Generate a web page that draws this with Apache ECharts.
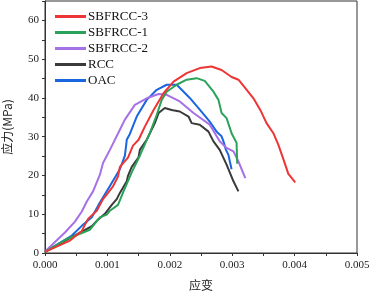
<!DOCTYPE html>
<html>
<head>
<meta charset="utf-8">
<script src="https://cdn.jsdelivr.net/npm/echarts@6/dist/echarts.min.js"></script>
<style>
  html, body { margin: 0; padding: 0; background: #fff; }
  #chart { width: 370px; height: 292px; }
</style>
</head>
<body>
<div id="chart"></div>
<script>
// 应力-应变曲线 [strain, stress(MPa)]
const sbfrcc3 = [
  [0, 0.3], [0.0004, 3.2], [0.00059, 5.7], [0.00069, 8.8], [0.00083, 10.9],
  [0.00093, 13.9], [0.00101, 15.5], [0.00109, 17.2], [0.00117, 19.7], [0.0012, 22.2],
  [0.00133, 24.6], [0.00141, 27.7], [0.0015, 29.2], [0.0016, 32.6], [0.00174, 36.9],
  [0.0019, 41.2], [0.00206, 44.2], [0.00227, 46.4], [0.00248, 47.7], [0.00267, 48.1],
  [0.00283, 47.2], [0.00299, 45.4], [0.0031, 44.7], [0.00321, 42.5], [0.00334, 39.9],
  [0.00345, 36.9], [0.00355, 33.5], [0.00366, 30.9], [0.00374, 27.9], [0.00382, 24.2],
  [0.0039, 20.4], [0.00401, 18.2]
];
const sbfrcc1 = [
  [0, 0.3], [0.00035, 3.6], [0.00061, 5.3], [0.00072, 6.0], [0.00088, 9.2],
  [0.00099, 9.9], [0.00104, 10.9], [0.00117, 12.4], [0.00125, 15.6], [0.00139, 20.8],
  [0.00152, 25.1], [0.00168, 30.9], [0.00179, 35.6], [0.00187, 39.5], [0.00195, 41.6],
  [0.00211, 43.4], [0.00227, 44.7], [0.00243, 45.1], [0.00256, 44.4], [0.0027, 41.6],
  [0.00278, 39.5], [0.00283, 36.1], [0.00291, 34.8], [0.00299, 30.9], [0.00307, 28.4],
  [0.00308, 23.0]
];
const sbfrcc2 = [
  [0, 0.4], [0.00032, 5.3], [0.00048, 8.1], [0.00059, 10.7], [0.00067, 13.3],
  [0.00077, 15.9], [0.00088, 20.2], [0.00093, 23.2], [0.00104, 26.6], [0.0012, 31.8],
  [0.00128, 34.4], [0.00144, 38.2], [0.00163, 39.9], [0.00182, 41.0], [0.00195, 40.8],
  [0.00216, 39.1], [0.00238, 36.1], [0.00264, 33.1], [0.0028, 28.8], [0.00291, 27.1],
  [0.00302, 26.2], [0.0031, 23.6], [0.00321, 19.3]
];
const rcc = [
  [0, 0.3], [0.00045, 4.3], [0.00075, 6.9], [0.00083, 8.3], [0.00096, 10.1],
  [0.00107, 12.4], [0.00115, 13.9], [0.0012, 15.5], [0.00131, 18.5], [0.00133, 19.9],
  [0.00139, 22.2], [0.0015, 24.7], [0.00152, 26.6], [0.00163, 29.2], [0.00176, 33.5],
  [0.00182, 36.1], [0.00192, 37.4], [0.00203, 36.9], [0.00216, 36.5], [0.0023, 35.2],
  [0.00235, 33.5], [0.00248, 33.1], [0.00262, 31.3], [0.0027, 28.8], [0.0028, 26.6],
  [0.00291, 22.8], [0.00302, 18.5], [0.0031, 15.9]
];
const oac = [
  [0, 0.3], [0.00043, 4.5], [0.00059, 7.0], [0.00075, 9.2], [0.00088, 13.0],
  [0.00104, 17.3], [0.0012, 21.6], [0.00128, 25.1], [0.0013, 27.7], [0.00131, 29.2],
  [0.00136, 30.7], [0.00147, 35.2], [0.00163, 39.5], [0.00179, 42.1], [0.00195, 43.4],
  [0.00211, 43.4], [0.00219, 42.1], [0.00232, 40.0], [0.00248, 37.0], [0.00264, 33.9],
  [0.00275, 31.3], [0.00283, 30.1], [0.00286, 28.8], [0.0029, 26.6], [0.00294, 25.3],
  [0.00299, 21.6]
];

const names = ["SBFRCC-3", "SBFRCC-1", "SBFRCC-2", "RCC", "OAC"];
const colors = ["#ee3535", "#2ba259", "#a670e6", "#3a3a3a", "#1a66de"];
const seriesData = [sbfrcc3, sbfrcc1, sbfrcc2, rcc, oac];

const serif = "'Liberation Serif', 'Times New Roman', serif";
const cjk = "'Noto Sans CJK SC', sans-serif";

const chart = echarts.init(document.getElementById("chart"));
chart.setOption({
  animation: false,
  grid: {
    left: 45, right: 13, top: 1, bottom: 39,
    outerBoundsMode: "none",
    containLabel: false,
    show: true, borderColor: "#333", borderWidth: 1
  },
  legend: {
    orient: "vertical",
    left: 50, top: 5,
    itemWidth: 31, itemHeight: 3, itemGap: 3,
    icon: "rect",
    textStyle: { fontFamily: serif, fontSize: 13, color: "#111", padding: [0, 0, 0, -3] },
    data: names
  },
  xAxis: {
    type: "value",
    min: 0, max: 0.005, interval: 0.001,
    name: "应变",
    nameLocation: "middle",
    nameGap: 26,
    nameTextStyle: { fontFamily: cjk, fontSize: 12, color: "#222" },
    axisLine: { lineStyle: { color: "#333" } },
    axisTick: { length: 3, lineStyle: { color: "#333" } },
    minorTick: { show: true, splitNumber: 2, length: 3, lineStyle: { color: "#333" } },
    axisLabel: {
      fontFamily: serif, fontSize: 11, color: "#222", margin: 7,
      formatter: (v) => v.toFixed(3)
    },
    splitLine: { show: false }
  },
  yAxis: {
    type: "value",
    min: 0, max: 65, interval: 10,
    name: "应力(MPa)",
    nameLocation: "middle",
    nameGap: 32,
    nameTextStyle: { fontFamily: cjk, fontSize: 12, color: "#222" },
    axisLine: { show: true, lineStyle: { color: "#333" } },
    axisTick: { show: true, length: 3, lineStyle: { color: "#333" } },
    minorTick: { show: true, splitNumber: 2, length: 3, lineStyle: { color: "#333" } },
    axisLabel: {
      fontFamily: serif, fontSize: 11, color: "#222", margin: 6,
      showMaxLabel: false
    },
    splitLine: { show: false }
  },
  series: seriesData.map((d, i) => ({
    name: names[i],
    type: "line",
    data: d,
    symbol: "none",
    color: colors[i],
    lineStyle: { width: 2, color: colors[i] },
    z: 10 - i
  }))
});
</script>
</body>
</html>
